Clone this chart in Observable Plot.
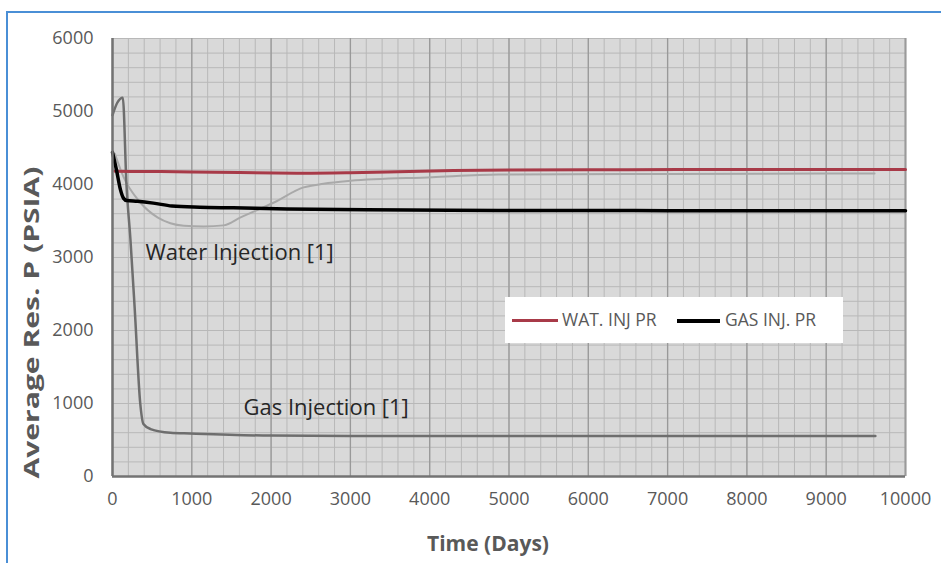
<!DOCTYPE html>
<html><head><meta charset="utf-8">
<script src="https://cdn.jsdelivr.net/npm/d3@7"></script>
<script src="https://cdn.jsdelivr.net/npm/@observablehq/plot@0.6"></script>
<style>
body{margin:0;background:#fff;}
#wrap{position:relative;width:941px;height:563px;overflow:hidden;font-family:"Open Sans",sans-serif;background:#fff;}
#border{position:absolute;left:6px;top:11px;width:980px;height:620px;border-left:2px solid #4a8fd6;border-top:2px solid #4a8fd6;pointer-events:none;}
#chart{position:absolute;left:0;top:0;}
#legend{position:absolute;left:505px;top:297px;width:338px;height:46px;background:#fff;font-size:17.5px;color:#595959;}
#legend span{position:absolute;white-space:nowrap;}
.sw{height:3px;top:22px;}
.lt{top:10px;line-height:24px;}
</style></head>
<body>
<div id="wrap">
  <div id="chart"></div>
  <div id="legend">
    <span class="sw" style="left:7px;width:46px;background:#a83a48"></span>
    <span class="lt" style="left:57px">WAT. INJ PR</span>
    <span class="sw" style="left:172px;width:43px;background:#000;height:3.5px"></span>
    <span class="lt" style="left:220px">GAS INJ. PR</span>
  </div>
  <div id="border"></div>
</div>
<script>
// WAT. INJ PR (red)
const watInjT = [30, 500, 1000, 1600, 2400, 3000, 3600, 4300, 5000, 6500, 8000, 10000];
const watInjP = [4180, 4178, 4172, 4163, 4155, 4162, 4175, 4192, 4200, 4203, 4205, 4205];
// GAS INJ. PR (black)
const gasInjT = [0, 50, 100, 140, 180, 315, 515, 750, 1100, 1520, 2200, 3200, 4870, 7000, 10000];
const gasInjP = [4440, 4200, 3930, 3810, 3780, 3770, 3745, 3705, 3688, 3680, 3665, 3653, 3645, 3642, 3640];
// Water Injection [1] (light grey reference)
const watRefT = [30, 140, 353, 567, 730, 900, 1150, 1400, 1615, 2030, 2410, 2660, 3000, 4030, 4870, 7000, 9610];
const watRefP = [4420, 4100, 3750, 3550, 3470, 3435, 3425, 3440, 3550, 3750, 3960, 4010, 4050, 4100, 4137, 4145, 4150];
// Gas Injection [1] (dark grey reference)
const gasRefT = [0, 60, 130, 176, 226, 280, 350, 390, 480, 730, 980, 2000, 3000, 9620];
const gasRefP = [4950, 5120, 5190, 4000, 3250, 2300, 1000, 720, 650, 600, 590, 560, 555, 555];
// tick labels
const xTicks = [0, 1000, 2000, 3000, 4000, 5000, 6000, 7000, 8000, 9000, 10000];
const yTicks = [0, 1000, 2000, 3000, 4000, 5000, 6000];
// annotations
const noteText = ["Water Injection [1]", "Gas Injection [1]"];
const noteT = [416, 1652];
const noteP = [3060, 940];

const toRows = (T, P) => T.map((t, i) => ({t, p: P[i]}));
const watInj = toRows(watInjT, watInjP);
const gasInj = toRows(gasInjT, gasInjP);
const watRef = toRows(watRefT, watRefP);
const gasRef = toRows(gasRefT, gasRefP);
const notes = noteText.map((s, i) => ({s, t: noteT[i], p: noteP[i]}));
const minorX = d3.range(0, 10001, 200);
const minorY = d3.range(0, 6001, 200);

const chart = Plot.plot({
  width: 941, height: 563,
  marginLeft: 112, marginRight: 36, marginTop: 38, marginBottom: 87,
  x: {domain: [0, 10000]},
  y: {domain: [0, 6000]},
  style: {fontFamily: "Open Sans", fontSize: "18px", color: "#595959", background: "transparent", overflow: "visible"},
  marks: [
    Plot.frame({fill: "#d9d9d9", stroke: null}),
    Plot.ruleX(minorX, {stroke: "#b8b8b8", strokeWidth: 1}),
    Plot.ruleY(minorY, {stroke: "#b8b8b8", strokeWidth: 1}),
    Plot.ruleX(xTicks, {stroke: "#999999", strokeWidth: 1.3}),
    Plot.ruleX([10000], {stroke: "#9a9a9a", strokeWidth: 2}),
    Plot.line(watRef, {x: "t", y: "p", stroke: "#a9a9a9", strokeWidth: 2, curve: "monotone-x"}),
    Plot.line(gasRef, {x: "t", y: "p", stroke: "#6e6e6e", strokeWidth: 2.5, curve: "monotone-x"}),
    Plot.line(watInj, {x: "t", y: "p", stroke: "#a83a48", strokeWidth: 3, curve: "monotone-x"}),
    Plot.line(gasInj, {x: "t", y: "p", stroke: "#000", strokeWidth: 3.5, curve: "monotone-x"}),
    Plot.ruleX([0], {stroke: "#737373", strokeWidth: 2.5}),
    Plot.ruleY([0], {stroke: "#737373", strokeWidth: 2.5}),
    Plot.axisX({ticks: xTicks, tickSize: 0, tickPadding: 16, label: null, tickFormat: d3.format("d")}),
    Plot.axisY({ticks: yTicks, tickSize: 0, tickPadding: 19, label: null, tickFormat: d3.format("d")}),
    Plot.text(notes, {x: "t", y: "p", text: "s", textAnchor: "start", fontSize: 22, fill: "#262626"}),
    Plot.text(["Time (Days)"], {text: d => d, frameAnchor: "bottom", dy: 74, dx: -21, fontSize: 21, fontWeight: "bold", fill: "#595959"}),
    Plot.text(["Average Res. P (PSIA)"], {text: d => d, frameAnchor: "left", rotate: -90, dx: -80, dy: 221, textAnchor: "start", fontSize: 21, fontWeight: "bold", fill: "#595959"})
  ]
});
document.getElementById("chart").appendChild(chart);
d3.select(chart).selectAll("text").filter(function() { return this.textContent === "Average Res. P (PSIA)"; })
  .attr("textLength", 312).attr("lengthAdjust", "spacingAndGlyphs");
</script>
</body></html>
